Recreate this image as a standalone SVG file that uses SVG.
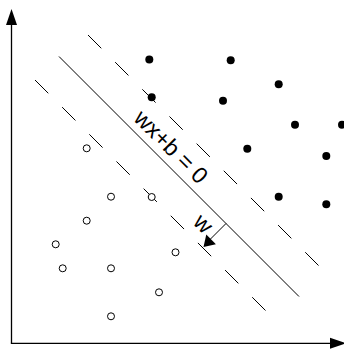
<svg xmlns="http://www.w3.org/2000/svg" width="344" height="349" viewBox="0 0 344 349">
<style>
.ax{stroke:#000;stroke-width:1.3;fill:none}
.ln{stroke:#000;stroke-width:1;fill:none}
.dash{stroke:#000;stroke-width:1;fill:none;stroke-dasharray:18.8 19.6}
.pos{fill:#000}
.neg{fill:#fff;stroke:#000;stroke-width:1}
.lbl{font-family:"Liberation Sans",Arial,sans-serif;font-size:23px;fill:#000;text-anchor:middle}
</style>
<rect width="344" height="349" fill="#fff"/>
<g id="axes">
<line class="ax" x1="11.5" y1="24" x2="11.5" y2="343.3"/>
<line class="ax" x1="10.85" y1="343.3" x2="331" y2="343.3"/>
<polygon points="11.5,9 6,25 17,25" fill="#000"/>
<polygon points="346,343.3 330,337.8 330,348.8" fill="#000"/>
</g>
<g id="connectors">
<line class="ln" x1="59" y1="56.5" x2="299" y2="296.5"/>
<line class="dash" x1="88" y1="35" x2="318.7" y2="265.7"/>
<line class="dash" x1="35" y1="80" x2="265.5" y2="310.5"/>
<line class="ln" x1="226" y1="223.5" x2="210" y2="239.5"/>
<polygon points="203.5,247 206.3,234.6 215.9,244.2" fill="#000"/>
</g>
<g id="positive">
<circle class="pos" cx="149.3" cy="59.5" r="4"/>
<circle class="pos" cx="230.7" cy="60.3" r="4"/>
<circle class="pos" cx="278.7" cy="84.3" r="4"/>
<circle class="pos" cx="151.7" cy="97.3" r="4"/>
<circle class="pos" cx="223" cy="100.7" r="4"/>
<circle class="pos" cx="295" cy="124.7" r="4"/>
<circle class="pos" cx="342" cy="124.7" r="4"/>
<circle class="pos" cx="247.3" cy="148.7" r="4"/>
<circle class="pos" cx="326.3" cy="156" r="4"/>
<circle class="pos" cx="278.7" cy="196.7" r="4"/>
<circle class="pos" cx="326.3" cy="204.3" r="4"/>
</g>
<g id="negative">
<circle class="neg" cx="86.7" cy="148.3" r="3.5"/>
<circle class="neg" cx="111" cy="196.7" r="3.5"/>
<circle class="neg" cx="151.7" cy="197" r="3.5"/>
<circle class="neg" cx="86.7" cy="220.7" r="3.5"/>
<circle class="neg" cx="55.7" cy="244.3" r="3.5"/>
<circle class="neg" cx="175.5" cy="252.3" r="3.5"/>
<circle class="neg" cx="62.7" cy="268.3" r="3.5"/>
<circle class="neg" cx="111" cy="268.3" r="3.5"/>
<circle class="neg" cx="159" cy="292.3" r="3.5"/>
<circle class="neg" cx="111" cy="316.3" r="3.5"/>
</g>
<g id="hyperplane-label">
<text class="lbl" transform="translate(165.5,152.4) rotate(45)">wx+b = 0</text>
</g>
<g id="w-label">
<text class="lbl" transform="translate(197.8,229.2) rotate(45)">w</text>
</g>
</svg>
